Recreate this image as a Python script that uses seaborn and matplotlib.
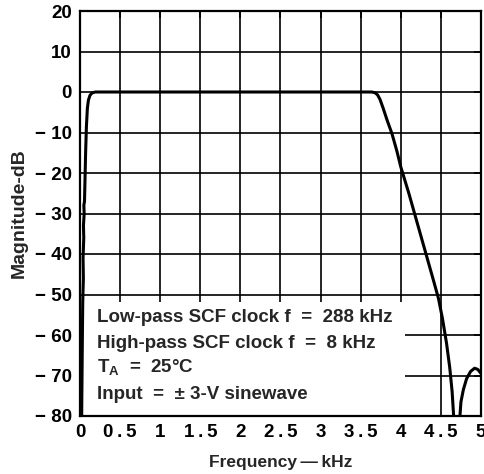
import numpy as np
import pandas as pd
import matplotlib
matplotlib.use('Agg')
import matplotlib.pyplot as plt
from matplotlib.patches import Rectangle
import seaborn as sns

# Passband response (kHz, dB)
freq_khz = [0.02, 0.028, 0.034, 0.042, 0.038, 0.047, 0.043, 0.052, 0.048, 0.056,
            0.062, 0.07, 0.08, 0.092, 0.105, 0.125, 0.15, 0.19, 0.5, 1.0, 1.5,
            2.0, 2.5, 3.0, 3.5, 3.64, 3.68, 3.71, 3.74, 3.78, 3.83, 3.89, 3.95,
            4.0, 4.1, 4.2, 4.3, 4.4, 4.47, 4.52, 4.57, 4.61, 4.64, 4.665]
mag_db = [-82, -64, -52, -46, -41, -36, -33, -30, -28, -27,
          -22, -15, -8.5, -4, -2, -0.8, -0.25, 0, 0, 0, 0,
          0, 0, 0, 0, 0, -0.2, -0.7, -1.8, -4, -7, -10.3, -14.5,
          -18.5, -25, -32, -39, -46, -51, -56, -62, -68, -74, -82]

# Stopband lobe above the notch
lobe_khz = [4.73, 4.75, 4.78, 4.82, 4.87, 4.92, 4.96, 5.0]
lobe_db = [-82, -76.5, -73.5, -70.8, -69, -68.2, -68.5, -69.5]

x_ticks = np.arange(0, 5.01, 0.5)
y_ticks = np.arange(-80, 21, 10)
x_labels = ['0', '0\u2009.\u20095', '1', '1\u2009.\u20095', '2', '2\u2009.\u20095',
            '3', '3\u2009.\u20095', '4', '4\u2009.\u20095', '5']
y_labels = [('\u2212 ' + str(-v)) if v < 0 else str(v) for v in y_ticks]

notes = ['Low-pass SCF clock f  =  288 kHz',
         'High-pass SCF clock f  =  8 kHz',
         r'T$_\mathbf{A}$  =  25°C',
         'Input  =  ± 3-V sinewave']

df_pass = pd.DataFrame({'Frequency': freq_khz, 'Magnitude': mag_db})
df_lobe = pd.DataFrame({'Frequency': lobe_khz, 'Magnitude': lobe_db})

sns.set_style('white')
plt.rcParams['font.family'] = ['Liberation Sans', 'DejaVu Sans']
plt.rcParams['font.weight'] = 'bold'
plt.rcParams['mathtext.fontset'] = 'custom'
plt.rcParams['mathtext.bf'] = 'Liberation Sans:bold'
plt.rcParams['mathtext.rm'] = 'Liberation Sans:bold'

fig = plt.figure(figsize=(4.85, 4.74), dpi=100)
ax = fig.add_axes([80 / 485, 1 - 416 / 474, 401 / 485, 405 / 474])

# grid drawn by hand so the note box can hide it while ticks stay on top
for xv in x_ticks:
    ax.axvline(xv, color='black', lw=1.2, zorder=0.5)
for yv in y_ticks:
    ax.axhline(yv, color='black', lw=1.2, zorder=0.5)

ax.add_patch(Rectangle((0, -80), 4.05, 29.6, facecolor='white',
                       edgecolor='none', zorder=1))
ax.plot(x_ticks[1:9], [-50] * 8, linestyle='none', marker=3,
        markersize=5, markeredgewidth=1.2, color='black', zorder=1.5)

sns.lineplot(data=df_pass, x='Frequency', y='Magnitude', sort=False,
             color='black', lw=2.2, ax=ax, zorder=3)
sns.lineplot(data=df_lobe, x='Frequency', y='Magnitude', sort=False,
             color='black', lw=2.2, ax=ax, zorder=3)

ax.set_xlim(0, 5)
ax.set_ylim(-80, 20)
ax.set_xticks(x_ticks)
ax.set_xticklabels(x_labels)
ax.set_yticks(y_ticks)
ax.set_yticklabels(y_labels)
ax.set_axisbelow(False)
ax.tick_params(direction='in', length=5, width=1.2, colors='black',
               labelsize=13.5, top=True, right=True)
ax.tick_params(axis='x', pad=6)
ax.tick_params(axis='y', pad=6)
for lab in ax.get_xticklabels() + ax.get_yticklabels():
    lab.set_fontweight('bold')
for sp in ax.spines.values():
    sp.set_color('black')
    sp.set_linewidth(1.6)
    sp.set_zorder(4)

ax.set_xlabel('Frequency\u2009\u2014\u2009kHz', fontsize=12.5, fontweight='bold', labelpad=10)
ax.set_ylabel('Magnitude-dB', fontsize=14, fontweight='bold', labelpad=5)

for i, line in enumerate(notes):
    ax.text(0.21, -56.8 - 6.3 * i, line, fontsize=13.5, fontweight='bold',
            ha='left', va='baseline', zorder=2)

fig.savefig('out.png', dpi=100)
plt.close(fig)
